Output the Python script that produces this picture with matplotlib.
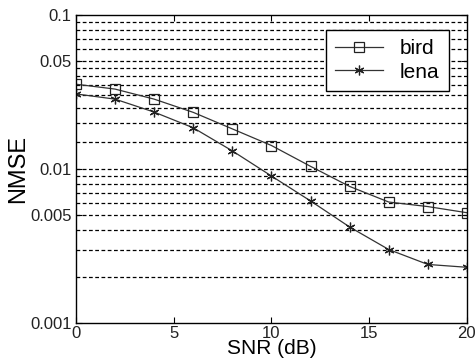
import numpy as np
import matplotlib
matplotlib.use("Agg")
import matplotlib.pyplot as plt
from matplotlib.ticker import FixedLocator, NullLocator, NullFormatter

plt.rcParams['font.family'] = ['Liberation Sans', 'DejaVu Sans']

# data
snr = [0, 2, 4, 6, 8, 10, 12, 14, 16, 18, 20]
bird = [0.0355, 0.033, 0.0284, 0.0233, 0.0182, 0.0142, 0.0104, 0.0077, 0.0061, 0.0057, 0.0052]
lena = [0.0307, 0.0284, 0.0234, 0.0185, 0.0131, 0.0090, 0.0062, 0.0042, 0.0030, 0.0024, 0.0023]

y_ticks = [0.001, 0.005, 0.01, 0.05, 0.1]
y_ticklabels = ['0.001', '0.005', '0.01', '0.05', '0.1']
grid_vals = [0.002, 0.003, 0.004, 0.005, 0.006, 0.007, 0.008, 0.009,
             0.01, 0.015, 0.02, 0.025, 0.03, 0.035, 0.04, 0.045,
             0.05, 0.06, 0.07, 0.08, 0.09]
x_ticks = [0, 5, 10, 15, 20]

fig = plt.figure(figsize=(4.75, 3.64), dpi=100)
ax = fig.add_axes([0.16, 0.1126, 0.823, 0.8464])

# dashed horizontal grid
for g in grid_vals:
    ax.axhline(g, color='black', linestyle=(0, (3, 2)), linewidth=0.9, zorder=0)

ax.plot(snr, bird, color='#333333', linewidth=0.9, marker='s', markersize=6.5,
        markerfacecolor='none', markeredgecolor='#222222', markeredgewidth=0.9, label='bird')
ax.plot(snr, lena, color='#333333', linewidth=0.9, marker=(6, 2, 0), markersize=7,
        markeredgecolor='#222222', markeredgewidth=0.9, label='lena')

ax.set_yscale('log')
ax.set_ylim(0.001, 0.1)
ax.set_xlim(0, 20)
ax.yaxis.set_major_locator(FixedLocator(y_ticks))
ax.set_yticklabels(y_ticklabels)
ax.yaxis.set_minor_locator(NullLocator())
ax.yaxis.set_minor_formatter(NullFormatter())
ax.set_xticks(x_ticks)
ax.set_xticklabels([str(x) for x in x_ticks])

ax.tick_params(direction='in', top=True, right=True, length=4, width=0.8,
               labelsize=12, pad=2, colors='black', labelcolor='#222222')
ax.tick_params(axis='y', pad=3)
for s in ax.spines.values():
    s.set_linewidth(1.0)

ax.set_ylabel('NMSE', fontsize=17, labelpad=1)
ax.set_xlabel('SNR (dB)', fontsize=15, labelpad=-1)

leg = ax.legend(loc='upper right', fontsize=15, frameon=True, fancybox=False,
                edgecolor='black', framealpha=1, handlelength=2.3,
                borderpad=0.45, labelspacing=0.2, handletextpad=0.8,
                bbox_to_anchor=(0.98, 0.985))
leg.get_frame().set_linewidth(1.0)

fig.savefig('out.png', dpi=100)
